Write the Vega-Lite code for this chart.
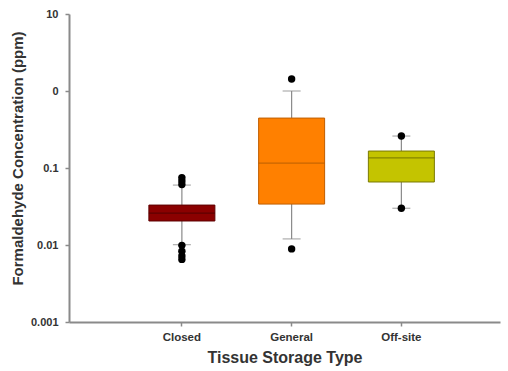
{
  "$schema": "https://vega.github.io/schema/vega-lite/v6.json",
  "autosize": {"type": "none"},
  "width": 431,
  "height": 308,
  "padding": {"left": 69, "top": 14, "right": 8, "bottom": 49},
  "background": "white",
  "datasets": {
    "stats": [
      {"type": "Closed", "lower": 0.0101, "q1": 0.0205, "median": 0.026, "q3": 0.033, "upper": 0.06},
      {"type": "General", "lower": 0.012, "q1": 0.034, "median": 0.116, "q3": 0.445, "upper": 1.0},
      {"type": "Off-site", "lower": 0.030, "q1": 0.0658, "median": 0.135, "q3": 0.166, "upper": 0.26}
    ],
    "outliers": [
      {"type": "Closed", "value": 0.075},
      {"type": "Closed", "value": 0.068},
      {"type": "Closed", "value": 0.061},
      {"type": "Closed", "value": 0.0099},
      {"type": "Closed", "value": 0.0083},
      {"type": "Closed", "value": 0.0072},
      {"type": "Closed", "value": 0.0065},
      {"type": "General", "value": 1.43},
      {"type": "General", "value": 0.0089},
      {"type": "Off-site", "value": 0.26},
      {"type": "Off-site", "value": 0.030}
    ]
  },
  "config": {
    "view": {"stroke": null},
    "font": "Liberation Sans",
    "axis": {
      "grid": false,
      "domainColor": "#8a8a8a",
      "domainWidth": 2,
      "tickColor": "#8a8a8a",
      "tickWidth": 1.5,
      "labelFont": "Liberation Sans",
      "labelFontWeight": "bold",
      "labelFontSize": 11.5,
      "labelColor": "#333333",
      "titleFont": "Liberation Sans",
      "titleFontWeight": "bold",
      "titleFontSize": 16,
      "titleColor": "#333333"
    }
  },
  "encoding": {
    "x": {
      "field": "type",
      "type": "nominal",
      "sort": ["Closed", "General", "Off-site"],
      "scale": {"type": "band", "paddingInner": 0, "paddingOuter": 0.4636, "align": 0.57},
      "axis": {
        "title": "Tissue Storage Type",
        "labelAngle": 0,
        "tickSize": 4,
        "labelPadding": 5,
        "titlePadding": 7
      }
    }
  },
  "layer": [
    {
      "data": {"name": "stats"},
      "mark": {"type": "rule", "color": "#8a8a8a", "strokeWidth": 1.2},
      "encoding": {
        "y": {
          "field": "lower",
          "type": "quantitative",
          "scale": {"type": "log", "domain": [0.001, 10], "nice": false},
          "axis": {
            "title": "Formaldehyde Concentration (ppm)",
            "values": [0.001, 0.01, 0.1, 1, 10],
            "labelExpr": "datum.value == 1 ? '0' : datum.value == 10 ? '10' : datum.value == 0.1 ? '0.1' : datum.value == 0.01 ? '0.01' : '0.001'",
            "labelFontSize": 11,
            "tickSize": 4,
            "labelPadding": 7,
            "titleFontSize": 15,
            "titleX": -52,
            "titleY": 144,
            "titleBaseline": "middle"
          }
        },
        "y2": {"field": "upper"}
      }
    },
    {
      "data": {"name": "stats"},
      "mark": {"type": "tick", "color": "#8a8a8a", "size": 18, "thickness": 1.2},
      "encoding": {"y": {"field": "lower", "type": "quantitative"}}
    },
    {
      "data": {"name": "stats"},
      "mark": {"type": "tick", "color": "#8a8a8a", "size": 18, "thickness": 1.2},
      "encoding": {"y": {"field": "upper", "type": "quantitative"}}
    },
    {
      "data": {"name": "stats"},
      "mark": {"type": "bar", "size": 66, "strokeWidth": 1},
      "encoding": {
        "y": {"field": "q1", "type": "quantitative"},
        "y2": {"field": "q3"},
        "fill": {
          "field": "type",
          "type": "nominal",
          "scale": {"domain": ["Closed", "General", "Off-site"], "range": ["#8b0000", "#ff8000", "#c4c400"]},
          "legend": null
        },
        "stroke": {
          "field": "type",
          "type": "nominal",
          "scale": {"domain": ["Closed", "General", "Off-site"], "range": ["#5e0000", "#c05e00", "#7a7a00"]},
          "legend": null
        }
      }
    },
    {
      "data": {"name": "stats"},
      "mark": {"type": "tick", "size": 66, "thickness": 1.2},
      "encoding": {
        "y": {"field": "median", "type": "quantitative"},
        "color": {
          "field": "type",
          "type": "nominal",
          "scale": {"domain": ["Closed", "General", "Off-site"], "range": ["#4a0000", "#b05a00", "#6a6a00"]},
          "legend": null
        }
      }
    },
    {
      "data": {"name": "outliers"},
      "mark": {"type": "point", "filled": true, "color": "black", "size": 55, "opacity": 1},
      "encoding": {"y": {"field": "value", "type": "quantitative"}}
    }
  ]
}
